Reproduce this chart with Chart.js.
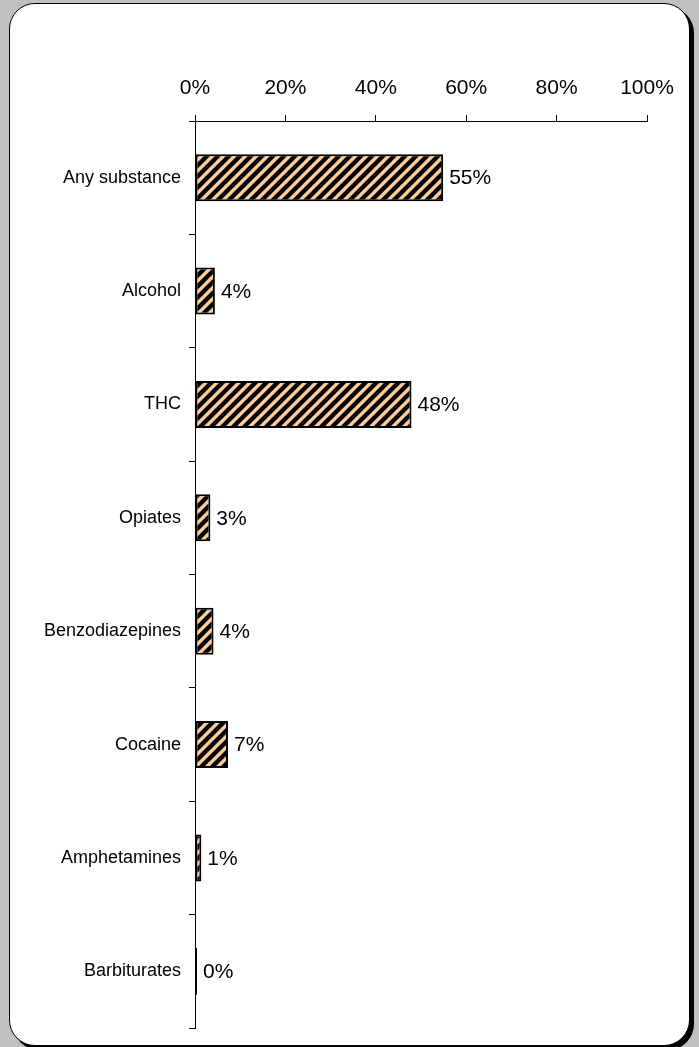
<!DOCTYPE html>
<html>
<head>
<meta charset="utf-8">
<script src="https://cdn.jsdelivr.net/npm/chart.js@4/dist/chart.umd.min.js"></script>
<style>
  html, body { margin: 0; padding: 0; background: #C0C0C0; width: 699px; height: 1047px; overflow: hidden; }
  #frame { position: absolute; left: 9px; top: 3px; width: 681px; height: 1043px; box-sizing: border-box;
           border: 1px solid #000; border-radius: 26px; background: #fff; box-shadow: 4px 4px 0 #000; }
  #c { position: absolute; left: 0; top: 0; }
</style>
</head>
<body>
<div id="frame"></div>
<canvas id="c" width="699" height="1047"></canvas>
<script>
const categories = ["Any substance", "Alcohol", "THC", "Opiates", "Benzodiazepines", "Cocaine", "Amphetamines", "Barbiturates"];
const values = [54.9, 4.4, 47.9, 3.4, 4.1, 7.3, 1.4, 0];
const valueLabelText = ["55%", "4%", "48%", "3%", "4%", "7%", "1%", "0%"];
const xTickValues = [0, 20, 40, 60, 80, 100];

// hatch pattern
function makeHatch() {
  const P = 11;
  const t = document.createElement('canvas');
  t.width = P; t.height = P;
  const g = t.getContext('2d');
  g.fillStyle = '#FFCC99';
  g.fillRect(0, 0, P, P);
  g.strokeStyle = '#000';
  g.lineWidth = 4.4;
  g.beginPath();
  g.moveTo(-P / 2, P / 2); g.lineTo(P / 2, -P / 2);
  g.moveTo(0, P); g.lineTo(P, 0);
  g.moveTo(P / 2, P * 1.5); g.lineTo(P * 1.5, P / 2);
  g.stroke();
  return g.createPattern(t, 'repeat');
}

const FONT = "'Liberation Sans', Arial, sans-serif";

const valueLabels = {
  id: 'valueLabels',
  afterDatasetsDraw(chart) {
    const ctx = chart.ctx;
    const meta = chart.getDatasetMeta(0);
    ctx.save();
    ctx.font = "21px " + FONT;
    ctx.fillStyle = '#000';
    ctx.textAlign = 'left';
    ctx.textBaseline = 'middle';
    meta.data.forEach((bar, i) => {
      ctx.fillText(valueLabelText[i], bar.x + 6, bar.y + 1);
    });
    ctx.restore();
  }
};

new Chart(document.getElementById('c'), {
  type: 'bar',
  data: {
    labels: categories,
    datasets: [{
      data: values,
      backgroundColor: makeHatch(),
      borderColor: '#000',
      borderWidth: 2,
      borderSkipped: false,
      barPercentage: 0.414,
      categoryPercentage: 1.0,
      minBarLength: 2
    }]
  },
  options: {
    indexAxis: 'y',
    responsive: false,
    animation: false,
    devicePixelRatio: 1,
    layout: { padding: { left: 0, right: 52, top: 0, bottom: 19 } },
    plugins: { legend: { display: false }, tooltip: { enabled: false } },
    scales: {
      x: {
        position: 'top',
        min: 0, max: 100,
        afterBuildTicks(s) { s.ticks = xTickValues.map(v => ({ value: v })); },
        afterFit(s) { s.height = 121; },
        border: { display: true, color: '#000', width: 1 },
        grid: { drawOnChartArea: false, drawTicks: true, tickLength: 6, color: '#000' },
        ticks: {
          callback: v => v + '%',
          color: '#000',
          padding: 14,
          maxRotation: 0,
          font: { family: FONT, size: 21 }
        }
      },
      y: {
        afterFit(s) { s.width = 195; },
        border: { display: true, color: '#000', width: 1 },
        grid: { offset: true, drawOnChartArea: false, drawTicks: true, tickLength: 6, color: '#000' },
        ticks: {
          color: '#000',
          padding: 8,
          font: { family: FONT, size: 18 }
        }
      }
    }
  },
  plugins: [valueLabels]
});
</script>
</body>
</html>
